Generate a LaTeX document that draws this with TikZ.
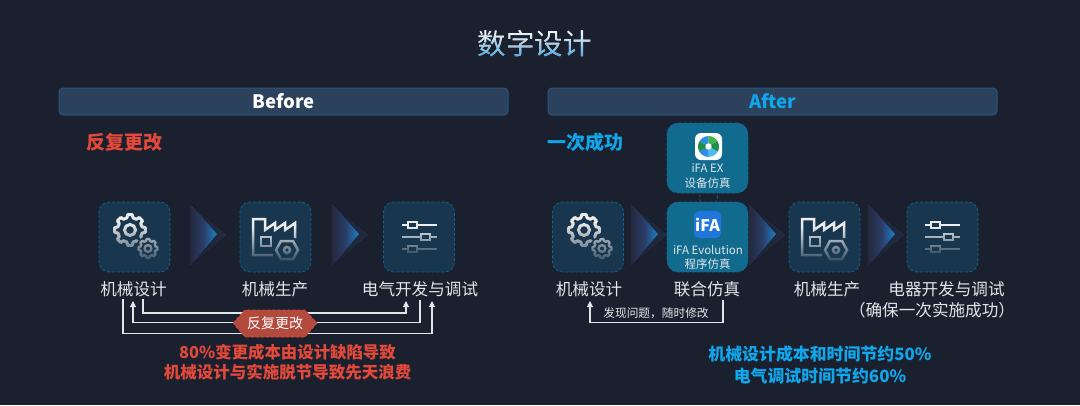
\documentclass[tikz,border=0pt]{standalone}
\usepackage{fontspec}
\setmainfont{Noto Sans CJK SC}
\usetikzlibrary{fadings,arrows.meta}
\definecolor{bg}{HTML}{1A202E}
\definecolor{barf}{HTML}{2C415C}
\definecolor{barl}{HTML}{2A5580}
\definecolor{boxf}{HTML}{18374F}
\definecolor{boxl}{HTML}{14638F}
\definecolor{simf}{HTML}{116B8F}
\definecolor{lab}{HTML}{E2E5E8}
\definecolor{redt}{HTML}{E2493A}
\definecolor{bluet}{HTML}{0FA6EC}
\definecolor{hexf}{HTML}{B34A3E}
\definecolor{icon}{HTML}{EDEDED}
\definecolor{chevl}{HTML}{23283C}
\definecolor{chevm}{HTML}{2A3E68}
\definecolor{chevr}{HTML}{1E80C8}
\definecolor{chevb}{HTML}{222C42}
\definecolor{gA}{HTML}{3DB54A}
\definecolor{gB}{HTML}{1F8F4E}
\definecolor{gC}{HTML}{4DBDF0}
\definecolor{gD}{HTML}{2E8FE0}
\definecolor{ifab}{HTML}{2176DC}
\definecolor{titleb}{HTML}{3A9FF0}
\newcommand{\fs}[1]{\fontsize{#1}{#1}\selectfont}
\tikzset{
  x=1pt,y=-1pt,
  bar/.style={draw=barl,line width=1pt,fill=barf,rounded corners=4pt,minimum width=449pt,minimum height=27pt,inner sep=0pt,text=white},
  stepbox/.style={draw=boxl,densely dashed,line width=.7pt,fill=boxf,rounded corners=10pt,minimum width=71pt,minimum height=70pt,inner sep=0pt},
  simbox/.style={draw=boxl,densely dashed,line width=.7pt,fill=simf,rounded corners=11pt,minimum width=81pt,minimum height=70pt,inner sep=0pt},
  lbl/.style={text=lab,inner sep=0pt,font=\fs{16.6}},
  loopline/.style={draw=lab,line width=1.1pt},
  looparrow/.style={loopline,-{Triangle[width=6pt,length=6pt]}},
  iconline/.style={draw=icon,line width=2.5pt},
}
\newcommand{\chev}[1]{%
  \begin{scope}[shift={(#1,0)}]
    \fill[left color=bg,right color=chevb] (0,203) -- (37,235) -- (0,267) -- cycle;
    \fill[left color=chevl,right color=chevr,middle color=chevm] (0,203) -- (27,234) -- (0,267) -- cycle;
  \end{scope}}
\newcommand{\gear}[4]{% x,y,scale,line width
  \begin{scope}[shift={(#1,#2)},scale=#3]
    \draw[iconline,line width=#4,line join=round]
      (-14:12.5) \foreach \a in {0,45,...,315}{ -- (\a-14:12.5) -- (\a-9:15.5) -- (\a+9:15.5) -- (\a+14:12.5)} -- cycle;
    \draw[iconline,line width=#4] (0,0) circle[radius=5.5];
  \end{scope}}
\newcommand{\gears}[1]{%
  \begin{scope}[shift={(#1,0)}]
    \gear{31}{230}{1}{3pt}
    \fill[boxf] (49,248.5) circle[radius=12.5];
    \gear{49}{248.5}{.62}{2.3pt}
    \fill[boxf,path fading=north] (8,222) rectangle (64,268);
  \end{scope}}
\newcommand{\factory}[1]{%
  \begin{scope}[shift={(#1,0)}]
    \draw[iconline,line join=miter] (33,255) -- (13,255) -- (13,219) -- (25,219) -- (25,230) -- (35,223) -- (35,230) -- (45,223) -- (45,230) -- (55,223) -- (55,238);
    \draw[iconline] (21,237) rectangle (31,246);
    \draw[iconline] (36,250) -- (41,241) -- (53,241) -- (58,250) -- (53,259) -- (41,259) -- cycle;
    \draw[iconline] (47,250) circle[radius=3];
    \fill[boxf,path fading=north] (8,226) rectangle (64,266);
  \end{scope}}
\newcommand{\sliders}[1]{%
  \begin{scope}[shift={(#1,0)}]
    \draw[iconline,line width=2.2pt] (18,225) -- (53,225);
    \draw[iconline,fill=boxf] (24,222) rectangle (33,228);
    \draw[iconline,line width=2.2pt] (18,237) -- (53,237);
    \draw[iconline,fill=boxf] (37,234) rectangle (46,240);
    \draw[iconline,line width=2.2pt] (18,249) -- (53,249);
    \draw[iconline,fill=boxf] (24,246) rectangle (33,252);
    \fill[boxf,path fading=north] (14,226) rectangle (58,258);
  \end{scope}}
\newcommand{\blade}[2]{\fill[#2] (0,0) -- (#1:10.5) -- (#1+20:10.5) -- (#1+40:10.5) -- (#1+60:10.5) -- cycle;}
\begin{document}
\begin{tikzpicture}
\useasboundingbox (0,0) rectangle (1080,405);
\fill[bg] (0,0) rectangle (1080,405);
\node[text=white,inner sep=0pt,font=\fs{28.5}] (title) at (534.5,44) {数字设计};
\foreach \i in {0,...,14}{
  \pgfmathtruncatemacro{\p}{95-\i*6.5}
  \fill[white!\p!titleb,blend mode=darken] (470,30+2*\i) rectangle (600,32+2*\i);
}
\node[bar,font=\fs{18.5}\bfseries] (before) at (283.5,101.5) {Before};
\node[bar,font=\fs{18.5}\bfseries,text=bluet] (after) at (772.5,101.5) {After};
\node[text=redt,font=\fs{19}\bfseries,inner sep=0pt] (redh) at (124.5,142) {反复更改};
\node[text=bluet,font=\fs{19}\bfseries,inner sep=0pt] (blueh) at (585.5,142) {一次成功};

\chev{190}\chev{332}\chev{631}\chev{749}\chev{868}

\node[stepbox] (a1) at (134.5,237) {};
\node[stepbox] (a2) at (275.5,237) {};
\node[stepbox] (a3) at (419,237) {};
\node[stepbox] (b1) at (588,237) {};
\node[stepbox] (b3) at (824.5,237) {};
\node[stepbox] (b4) at (942.5,237) {};
\node[simbox] (ex) at (707.5,158) {};
\node[simbox] (ev) at (707.5,237) {};
\node[draw=boxl,densely dashed,line width=.7pt,circle,minimum size=18pt,inner sep=0pt] (ring) at (708.5,197.5) {};

\gears{99}\factory{240}\sliders{384}
\gears{553}\factory{789}\sliders{907}

% iFA EX logo
\fill[white,rounded corners=6pt] (695,133) rectangle (722,160);
\begin{scope}[shift={(708.5,146.5)}]
  \blade{-150}{gD}\blade{-90}{gA}\blade{-30}{gB}\blade{30}{gC}\blade{90}{gD}\blade{150}{gB}
  \fill[white] (0,0) circle[radius=3.2];
\end{scope}
\node[text=lab,font=\fs{11.5},inner sep=0pt] (ext1) at (707.5,168) {iFA EX};
\node[text=lab,font=\fs{11.5},inner sep=0pt] (ext2) at (707.5,183) {设备仿真};
% iFA logo
\node[fill=ifab,rounded corners=5pt,minimum size=27pt,inner sep=0pt,text=white,font=\fs{16}\bfseries] (ifa) at (707.5,224.5) {iFA};
\node[text=lab,font=\fs{11.5},inner sep=0pt] (evt1) at (708,250) {iFA Evolution};
\node[text=lab,font=\fs{11.5},inner sep=0pt] (evt2) at (707.5,264.5) {程序仿真};

\node[lbl] (t1) at (133.5,289) {机械设计};
\node[lbl] (t2) at (275,289) {机械生产};
\node[lbl] (t3) at (420,289) {电气开发与调试};
\node[lbl] (u1) at (589,289) {机械设计};
\node[lbl] (u2) at (707,289) {联合仿真};
\node[lbl] (u3) at (827,289) {机械生产};
\node[lbl] (u4) at (946.5,289) {电器开发与调试};
\node[lbl] (u5) at (932,310) {（确保一次实施成功）};

% feedback loops
\coordinate (s1) at (123,299);\coordinate (e1) at (432,301);
\coordinate (s2) at (420,300);\coordinate (e2) at (133,301);
\coordinate (s3) at (143,299);\coordinate (e3) at (406,301);
\draw[looparrow] (s1) |- (432,333.5) -- (e1);
\draw[looparrow] (s2) |- (133,322.5) -- (e2);
\draw[looparrow] (s3) |- (406,313) -- (e3);
\fill[hexf] (233,323) -- (245,310) -- (305,310) -- (317,323) -- (305,337) -- (245,337) -- cycle;
\draw[redt,densely dashed,line width=.6pt] (233,323) -- (245,310) -- (305,310) -- (317,323) -- (305,337) -- (245,337) -- cycle;
\node[text=white,font=\fs{14},inner sep=0pt] (hx) at (275,323) {反复更改};
\node[text=redt,font=\fs{16.4}\bfseries,inner sep=0pt] (r1) at (287.5,352) {80\%变更成本由设计缺陷导致};
\node[text=redt,font=\fs{16.5}\bfseries,inner sep=0pt] (r2) at (287.5,372) {机械设计与实施脱节导致先天浪费};

\coordinate (s4) at (723,300);\coordinate (e4) at (590,301);
\draw[looparrow] (s4) |- (590,322.5) -- (e4);
\node[text=lab,font=\fs{11.7},inner sep=0pt] (fb) at (656,313) {发现问题，随时修改};

\node[text=bluet,font=\fs{16.9}\bfseries,inner sep=0pt] (g1) at (820,354) {机械设计成本和时间节约50\%};
\node[text=bluet,font=\fs{16.9}\bfseries,inner sep=0pt] (g2) at (820,376) {电气调试时间节约60\%};
\end{tikzpicture}
\end{document}
